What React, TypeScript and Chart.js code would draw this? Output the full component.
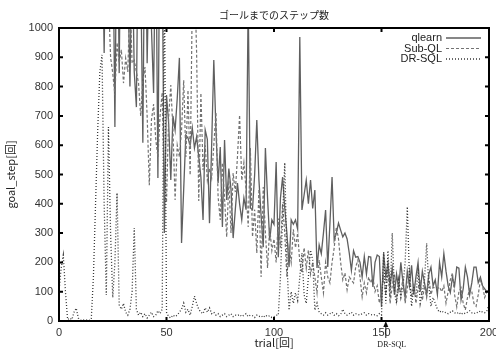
import React, { useEffect, useRef } from "react";
import { Chart, registerables } from "chart.js";
Chart.register(...registerables);

const chartTitle = "ゴールまでのステップ数";
const xTitle = "trial[回]";
const yTitle = "goal_step[回]";
const seriesNames = ["qlearn", "Sub-QL", "DR-SQL"];
const xTicks = [0, 50, 100, 150, 200];
const yTicks = [0, 100, 200, 300, 400, 500, 600, 700, 800, 900, 1000];
const annotationX = 152;
const annotationLabel = "DR-SQL";

const qlearn = [
  1600,1800,1500,1700,2000,1900,1600,1800,1700,1500,1900,2000,1800,1600,1700,1500,1800,1900,1600,1500,
  1400,915,1500,1300,1200,1400,662,1500,846,1600,1100,1400,1200,800,1300,850,730,1500,1200,608,1500,880,1300,1000,778,1400,488,1500,1300,300,771,
  676,481,700,652,760,898,266,450,635,624,600,659,590,628,560,491,345,652,620,334,600,891,650,471,594,321,618,413,520,450,283,380,471,400,345,420,380,1100,386,380,500,686,480,360,252,590,420,276,345,330,
  543,218,420,491,386,300,184,345,330,345,313,969,379,430,481,400,481,384,447,181,260,230,300,379,184,330,491,276,300,334,310,287,300,280,232,173,240,218,220,200,150,220,160,220,218,116,200,225,220,48,
  232,150,198,120,180,90,160,110,200,130,80,170,120,190,90,150,200,100,170,130,90,160,184,120,140,90,200,150,230,170,120,97,150,120,184,180,72,110,184,150,90,130,184,184,131,150,120,110,100,106,
];

const subQL = [
  1700,1500,1900,1600,1800,2000,1700,1500,1600,1900,1800,1700,1500,2000,1600,1800,1700,1900,1500,1600,
  1500,1300,1400,1100,900,846,771,950,880,926,812,897,850,1100,880,890,850,812,700,820,867,700,463,686,740,620,560,700,780,424,406,
  697,805,652,413,600,560,650,822,560,788,498,1100,1200,918,410,778,515,600,480,520,488,600,713,424,345,540,420,287,480,300,505,440,560,703,480,540,450,321,590,287,380,232,450,150,457,300,181,320,240,280,
  200,350,250,400,300,150,250,200,313,250,300,200,164,250,180,242,160,200,150,96,208,150,96,200,150,130,200,250,321,280,200,140,164,106,150,140,130,184,208,150,82,130,96,150,130,150,100,120,61,100,
  150,90,180,60,120,160,70,130,90,150,60,110,170,80,130,60,110,140,70,120,80,150,90,115,113,110,116,100,120,61,100,140,164,90,48,100,113,60,38,80,110,100,60,50,90,140,120,80,100,102,
];

const drSQL = [
  100,180,225,100,5,10,5,30,44,10,3,2,5,3,2,5,150,400,650,850,908,400,89,662,300,80,200,437,55,40,60,30,20,40,100,317,40,20,30,15,25,10,20,30,15,20,35,25,40,1200,30,
  15,10,20,15,20,30,40,61,30,40,20,50,85,60,40,30,25,45,30,45,25,30,20,25,15,20,25,15,20,25,15,20,18,22,15,20,25,15,20,18,12,20,15,18,12,20,15,18,12,15,
  20,20,150,350,540,200,37,100,60,96,70,150,232,90,60,150,242,208,37,61,30,25,20,28,20,25,30,20,25,18,22,40,25,20,25,30,20,25,22,20,25,28,20,25,22,20,22,18,25,20,
  235,60,240,80,300,100,60,140,80,120,200,390,150,50,120,80,180,60,100,140,265,120,50,80,60,40,30,35,28,30,25,30,35,28,25,30,22,28,25,30,35,28,25,30,28,35,30,28,35,55,
];

const COLORS = ["rgb(95,95,95)", "rgb(115,115,115)", "rgb(55,55,55)"];
const DASHES: number[][] = [[], [3, 2], [1, 2]];
const WIDTHS = [1.3, 1.2, 1.3];
const SANS = "'Liberation Sans', Arial, sans-serif";

const decorPlugin = {
  id: "decor",
  afterDatasetsDraw(chart: any) {
    const { ctx, chartArea: a, scales } = chart;
    ctx.save();
    ctx.strokeStyle = "#000";
    ctx.lineWidth = 2;
    ctx.setLineDash([]);
    ctx.strokeRect(a.left, a.top, a.right - a.left, a.bottom - a.top);
    ctx.beginPath();
    yTicks.forEach((v) => {
      const y = scales.y.getPixelForValue(v);
      ctx.moveTo(a.left, y); ctx.lineTo(a.left + 4, y);
      ctx.moveTo(a.right, y); ctx.lineTo(a.right - 4, y);
    });
    xTicks.forEach((v) => {
      const x = scales.x.getPixelForValue(v);
      ctx.moveTo(x, a.bottom); ctx.lineTo(x, a.bottom - 4);
      ctx.moveTo(x, a.top); ctx.lineTo(x, a.top + 4);
    });
    ctx.stroke();

    ctx.font = "11px " + SANS;
    ctx.textAlign = "right";
    ctx.textBaseline = "middle";
    seriesNames.forEach((name, i) => {
      const y = 38 + i * 10.5;
      ctx.fillStyle = "#222";
      ctx.fillText(name, 442, y);
      ctx.beginPath();
      ctx.strokeStyle = COLORS[i];
      ctx.lineWidth = WIDTHS[i];
      ctx.setLineDash(DASHES[i]);
      ctx.moveTo(446, y);
      ctx.lineTo(481, y);
      ctx.stroke();
    });
    ctx.setLineDash([]);

    ctx.fillStyle = "#222";
    ctx.textAlign = "center";
    ctx.font = "10px 'Noto Sans CJK JP', sans-serif";
    ctx.fillText(chartTitle, (a.left + a.right) / 2, 15);
    ctx.font = "11px 'Noto Sans CJK JP', " + SANS;
    ctx.fillText(xTitle, (a.left + a.right) / 2, 343);
    ctx.save();
    ctx.translate(11, (a.top + a.bottom) / 2);
    ctx.rotate(-Math.PI / 2);
    ctx.fillText(yTitle, 0, 0);
    ctx.restore();

    const ax = scales.x.getPixelForValue(annotationX);
    ctx.strokeStyle = "#222";
    ctx.lineWidth = 1;
    ctx.beginPath();
    ctx.moveTo(ax, a.bottom + 4);
    ctx.lineTo(ax, a.bottom + 17);
    ctx.stroke();
    ctx.fillStyle = "#111";
    ctx.beginPath();
    ctx.moveTo(ax, a.bottom);
    ctx.lineTo(ax - 2.5, a.bottom + 6);
    ctx.lineTo(ax + 2.5, a.bottom + 6);
    ctx.closePath();
    ctx.fill();
    ctx.font = "8px 'Liberation Serif', 'DejaVu Serif', serif";
    ctx.fillStyle = "#222";
    ctx.fillText(annotationLabel, ax + 6, 345);
    ctx.restore();
  },
};

export default function App() {
  const ref = useRef<HTMLCanvasElement | null>(null);
  useEffect(() => {
    if (!ref.current) return;
    const mk = (arr: number[]) => arr.map((v, i) => ({ x: i, y: v }));
    const chart = new Chart(ref.current, {
      type: "line",
      data: {
        datasets: [qlearn, subQL, drSQL].map((arr, i) => ({
          label: seriesNames[i],
          data: mk(arr),
          borderColor: COLORS[i],
          borderWidth: WIDTHS[i],
          borderDash: DASHES[i],
          pointRadius: 0,
          fill: false,
          tension: 0,
          order: 3 - i,
        })),
      },
      options: {
        animation: false,
        responsive: false,
        events: [],
        layout: { padding: { left: 0, right: 7, top: 28, bottom: 0 } },
        plugins: { legend: { display: false }, tooltip: { enabled: false }, title: { display: false } },
        scales: {
          x: {
            type: "linear",
            min: 0,
            max: 200,
            afterBuildTicks: (s: any) => { s.ticks = xTicks.map((v) => ({ value: v })); },
            afterFit: (s: any) => { s.height = 28; s.paddingLeft = 0; s.paddingRight = 0; },
            grid: { display: false, drawTicks: false },
            border: { display: false },
            ticks: { font: { family: SANS, size: 11 }, color: "#333", padding: 5, maxRotation: 0, autoSkip: false, callback: (v: any) => String(v) },
          },
          y: {
            type: "linear",
            min: 0,
            max: 1000,
            afterBuildTicks: (s: any) => { s.ticks = yTicks.map((v) => ({ value: v })); },
            afterFit: (s: any) => { s.width = 59; s.paddingTop = 0; s.paddingBottom = 0; },
            grid: { display: false, drawTicks: false },
            border: { display: false },
            ticks: { font: { family: SANS, size: 11 }, color: "#333", padding: 6, autoSkip: false, callback: (v: any) => String(v) },
          },
        },
      },
      plugins: [decorPlugin],
    } as any);
    return () => chart.destroy();
  }, []);
  return (
    <div style={{ position: "fixed", left: 0, top: 0, width: 496, height: 349, background: "#fff" }}>
      <canvas ref={ref} width={496} height={349} style={{ width: 496, height: 349, display: "block" }} />
    </div>
  );
}
